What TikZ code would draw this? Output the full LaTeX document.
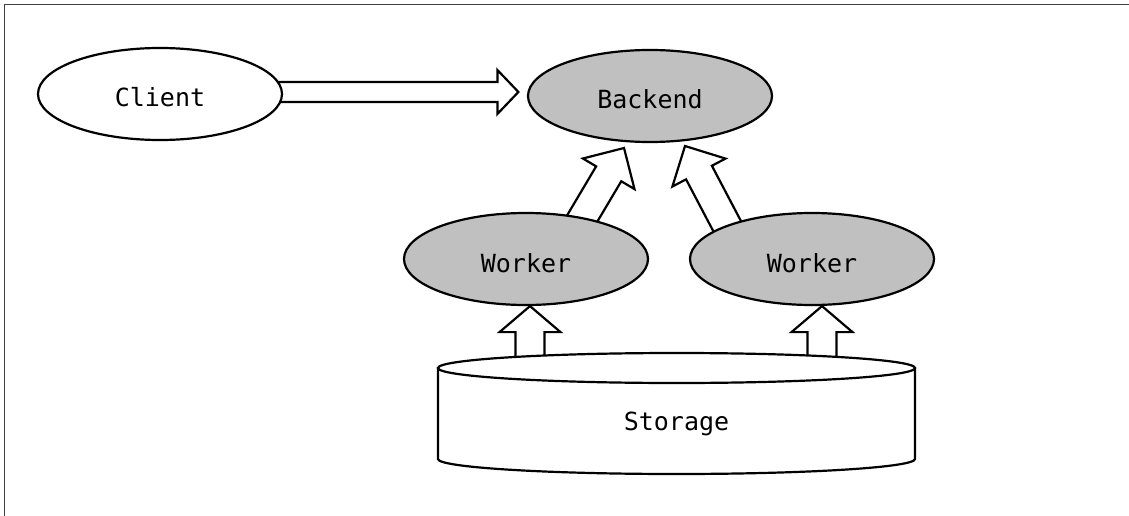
\documentclass[tikz,border=0pt]{standalone}
\usepackage{fontspec}
\setmonofont{DejaVu Sans Mono}
\usetikzlibrary{calc,backgrounds,shapes.geometric}
\definecolor{nodegray}{RGB}{192,192,192}
\definecolor{framegray}{RGB}{64,64,64}
\tikzset{
  ell/.style={ellipse, draw, line width=2.2pt, minimum width=244pt, minimum height=92pt,
    inner sep=0pt, font=\ttfamily\fontsize{25}{30}\selectfont, text height=26pt, text depth=0pt},
  graynode/.style={ell, fill=nodegray},
  whitenode/.style={ell, fill=white},
  fatarr/.style={draw, fill=white, line width=2.2pt, line join=miter},
  cyl/.style={draw, fill=white, line width=2.2pt},
  frameline/.style={draw=framegray, line width=1.6pt},
  storagebox/.style={minimum width=477pt, minimum height=91pt, inner sep=0pt,
    font=\ttfamily\fontsize{25}{30}\selectfont, text height=33pt, text depth=0pt}
}
% #1 start, #2 tip, #3 half shaft, #4 half head, #5 head length
\newcommand\fatarrow[5]{%
  \draw[fatarr] let \p1=(#1), \p2=(#2), \n1={atan2(\y2-\y1,\x2-\x1)} in
    ($(\p1)+(\n1+90:#3)$) -- ($(\p2)+(\n1+180:#5)+(\n1+90:#3)$)
    -- ($(\p2)+(\n1+180:#5)+(\n1+90:#4)$) -- (\p2)
    -- ($(\p2)+(\n1+180:#5)+(\n1-90:#4)$) -- ($(\p2)+(\n1+180:#5)+(\n1-90:#3)$)
    -- ($(\p1)+(\n1-90:#3)$) -- cycle;}
\begin{document}
\begin{tikzpicture}[x=1pt,y=-1pt]
\useasboundingbox (0,0) rectangle (1129,516);
\draw[frameline] (4.5,516) -- (4.5,4.5) -- (1129,4.5);

\node[whitenode] (client) at (160,94) {Client};
\node[graynode] (backend) at (650,96) {Backend};
\node[graynode] (w1) at (526,259) {Worker};
\node[graynode] (w2) at (812,259) {Worker};

% storage cylinder
\coordinate (stc) at (676.5,413.5);
\path[cyl] ($(stc)+(-238.5,-45.5)$) -- ($(stc)+(-238.5,45.5)$)
   arc[start angle=180, end angle=360, x radius=238.5pt, y radius=15pt]
   -- ($(stc)+(238.5,-45.5)$) -- cycle;
\path[cyl] ($(stc)+(0,-45.5)$) ellipse[x radius=238.5pt, y radius=15pt];
\node[storagebox] (storage) at (stc) {Storage};

\coordinate (cs) at ($(client.center)+(0,-2)$);
\coordinate (ce) at ($(backend.west)+(-8.5,-4)$);
\coordinate (w1s) at ($(w1.center)+(47,-25)$);
\coordinate (w1e) at ($(backend.center)+(-26,52)$);
\coordinate (w2s) at ($(w2.center)+(-76,-16)$);
\coordinate (w2e) at ($(backend.center)+(35,50)$);
\coordinate (s1s) at ($(storage.north)+(-146.5,0)$);
\coordinate (s1e) at ($(w1.south)+(4,0)$);
\coordinate (s2s) at ($(storage.north)+(145.5,0)$);
\coordinate (s2e) at ($(w2.south)+(10,0)$);

\begin{pgfonlayer}{background}
\fatarrow{cs}{ce}{10pt}{22pt}{21pt}
\fatarrow{w1s}{w1e}{14.6pt}{30pt}{30pt}
\fatarrow{w2s}{w2e}{14.6pt}{30pt}{30pt}
\fatarrow{s1s}{s1e}{14.5pt}{30.5pt}{26pt}
\fatarrow{s2s}{s2e}{14.5pt}{30.5pt}{26pt}
\end{pgfonlayer}
\end{tikzpicture}
\end{document}
